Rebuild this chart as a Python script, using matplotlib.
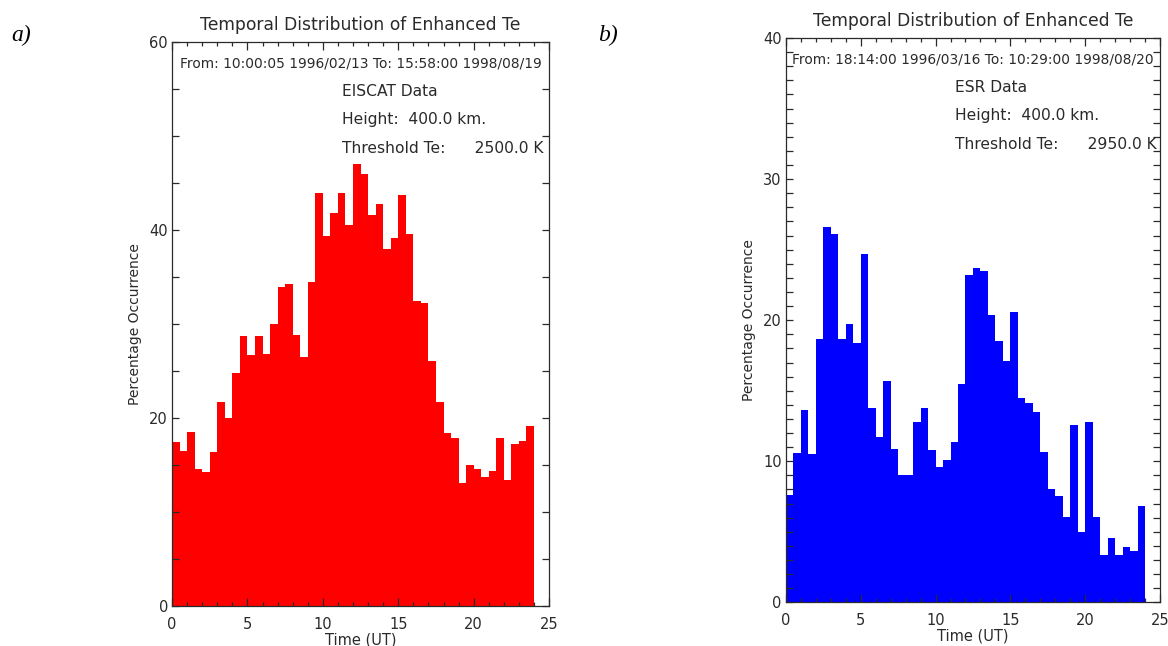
import matplotlib
matplotlib.use('Agg')
import matplotlib.pyplot as plt
from matplotlib.ticker import MultipleLocator
import numpy as np

# Half-hour bins, 0..24 UT
BIN_WIDTH = 0.5
bin_starts = np.arange(48) * BIN_WIDTH

# EISCAT percentage occurrence per bin
eiscat_pct = [17.4, 16.5, 18.5, 14.6, 14.3, 16.4, 21.7, 20.0,
              24.8, 28.7, 26.7, 28.7, 26.8, 30.0, 33.9, 34.3,
              28.8, 26.5, 34.5, 43.9, 39.4, 41.8, 43.9, 40.5,
              47.0, 46.0, 41.6, 42.8, 38.0, 39.1, 43.7, 39.6,
              32.4, 32.2, 26.1, 21.7, 18.4, 17.9, 13.1, 15.0,
              14.6, 13.7, 14.4, 17.9, 13.4, 17.2, 17.6, 19.2]

# ESR percentage occurrence per bin
esr_pct = [7.6, 10.6, 13.6, 10.5, 18.7, 26.6, 26.1, 18.7,
           19.7, 18.4, 24.7, 13.8, 11.7, 15.7, 10.85, 9.0,
           9.06, 12.76, 13.77, 10.78, 9.6, 10.1, 11.37, 15.47,
           23.2, 23.7, 23.5, 20.4, 18.5, 17.08, 20.6, 14.5,
           14.15, 13.5, 10.66, 8.0, 7.57, 6.04, 12.6, 5.02,
           12.76, 6.04, 3.37, 4.55, 3.37, 3.89, 3.63, 6.81]

TITLE = 'Temporal Distribution of Enhanced Te'
TEXT_COLOR = '#2a2a2a'

fig = plt.figure(figsize=(11.68, 6.46), dpi=100)


def setup_axes(ax, ymax, ymajor, yminor):
    ax.set_xlim(0, 25)
    ax.set_ylim(0, ymax)
    ax.xaxis.set_major_locator(MultipleLocator(5))
    ax.xaxis.set_minor_locator(MultipleLocator(1))
    ax.yaxis.set_major_locator(MultipleLocator(ymajor))
    ax.yaxis.set_minor_locator(MultipleLocator(yminor))
    ax.tick_params(which='both', direction='in', top=True, right=True,
                   colors=TEXT_COLOR, labelsize=10.5, width=0.9)
    ax.tick_params(axis='x', which='major', length=6, pad=8)
    ax.tick_params(axis='x', which='minor', length=3)
    ax.tick_params(axis='y', which='both', length=5, pad=3)
    for sp in ax.spines.values():
        sp.set_color(TEXT_COLOR)
        sp.set_linewidth(0.9)
    ax.set_title(TITLE, fontsize=12.3, color=TEXT_COLOR, pad=9)
    ax.set_xlabel('Time (UT)', fontsize=10.5, color=TEXT_COLOR, labelpad=0)
    ax.set_ylabel('Percentage Occurrence', fontsize=10, color=TEXT_COLOR, labelpad=5)


def info_text(ax, span, source, threshold):
    ax.text(0.5, 0.962, span, transform=ax.transAxes, ha='center', va='center',
            fontsize=9.9, color=TEXT_COLOR)
    ax.text(0.451, 0.913, source, transform=ax.transAxes, fontsize=11.2,
            color=TEXT_COLOR, va='center')
    ax.text(0.451, 0.863, 'Height:  400.0 km.', transform=ax.transAxes, fontsize=11.2,
            color=TEXT_COLOR, va='center')
    ax.text(0.451, 0.812, 'Threshold Te:      ' + threshold, transform=ax.transAxes,
            fontsize=11.2, color=TEXT_COLOR, va='center')


# Panel a) EISCAT
ax1 = fig.add_axes([0.1473, 0.0619, 0.3228, 0.873])
ax1.bar(bin_starts, eiscat_pct, width=BIN_WIDTH, align='edge', color='#ff0000', linewidth=0)
setup_axes(ax1, 60, 20, 5)
info_text(ax1, 'From: 10:00:05 1996/02/13 To: 15:58:00 1998/08/19', 'EISCAT Data', '2500.0 K')

# Panel b) ESR
ax2 = fig.add_axes([0.6729, 0.0676, 0.3202, 0.8735])
ax2.bar(bin_starts, esr_pct, width=BIN_WIDTH, align='edge', color='#0000ff', linewidth=0)
setup_axes(ax2, 40, 10, 1)
info_text(ax2, 'From: 18:14:00 1996/03/16 To: 10:29:00 1998/08/20', 'ESR Data', '2950.0 K')

# Panel letters
fig.text(0.010, 0.945, 'a)', fontsize=17, style='italic', family='Liberation Serif', va='center')
fig.text(0.512, 0.945, 'b)', fontsize=17, style='italic', family='Liberation Serif', va='center')

fig.savefig('out.png', dpi=100)
